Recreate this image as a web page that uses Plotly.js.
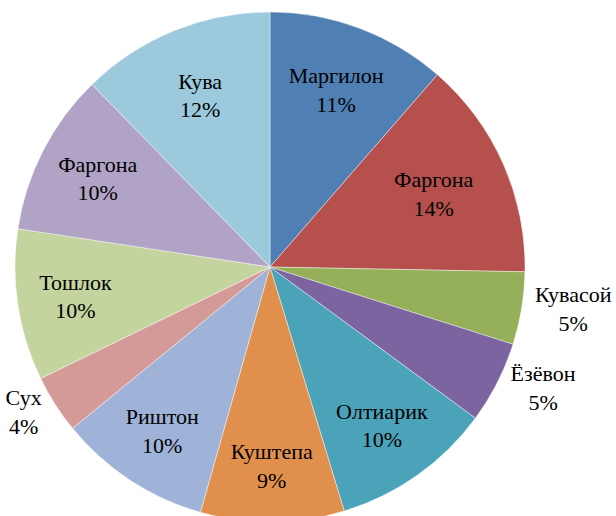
<!DOCTYPE html>
<html>
<head>
<meta charset="utf-8">
<script src="https://cdn.plot.ly/plotly-3.0.1.min.js"></script>
<style>
html, body { margin: 0; padding: 0; overflow: hidden; background: #fff; }
#chart { width: 616px; height: 530px; }
#chart text { font-family: "Times New Roman", "Liberation Serif", "DejaVu Serif" !important; }
</style>
</head>
<body>
<div id="chart"></div>
<script>
// Data (clockwise from 12 o'clock)
const names = ["Маргилон", "Фаргона", "Кувасой", "Ёзёвон", "Олтиарик", "Куштепа", "Риштон", "Сух", "Тошлок", "Фаргона", "Кува"];
const shares = [11.4, 13.9, 4.6, 5.2, 10.2, 9.1, 9.7, 3.7, 9.6, 10.3, 12.3];
const colors = ["#4F7FB3", "#B5504D", "#96B05A", "#7B64A0", "#4BA3B9", "#E0904C", "#9EB3D7", "#D49A98", "#C3D49E", "#B1A3C6", "#9DC9DC"];
const positions = ["inside", "inside", "outside", "outside", "inside", "inside", "inside", "outside", "inside", "inside", "inside"];

const ids = names.map((n, i) => i + "_" + n);
const FONT = "Times New Roman";

const trace = {
  type: "pie",
  labels: ids,
  text: names,
  values: shares,
  sort: false,
  direction: "clockwise",
  rotation: 0,
  marker: { colors: colors, line: { color: "rgba(255,255,255,0.6)", width: 0.7 } },
  texttemplate: "%{text}<br>%{percent:.0%}",
  textposition: positions,
  insidetextorientation: "horizontal",
  textfont: { family: FONT, size: 22, color: "#000" },
  hoverinfo: "none"
};

const layout = {
  width: 616,
  height: 530,
  margin: { l: 15, r: 91, t: 12, b: 8 },
  showlegend: false,
  paper_bgcolor: "#fff",
  font: { family: FONT, size: 22, color: "#000" }
};

Plotly.newPlot("chart", [trace], layout, { displayModeBar: false, staticPlot: true });
</script>
</body>
</html>
